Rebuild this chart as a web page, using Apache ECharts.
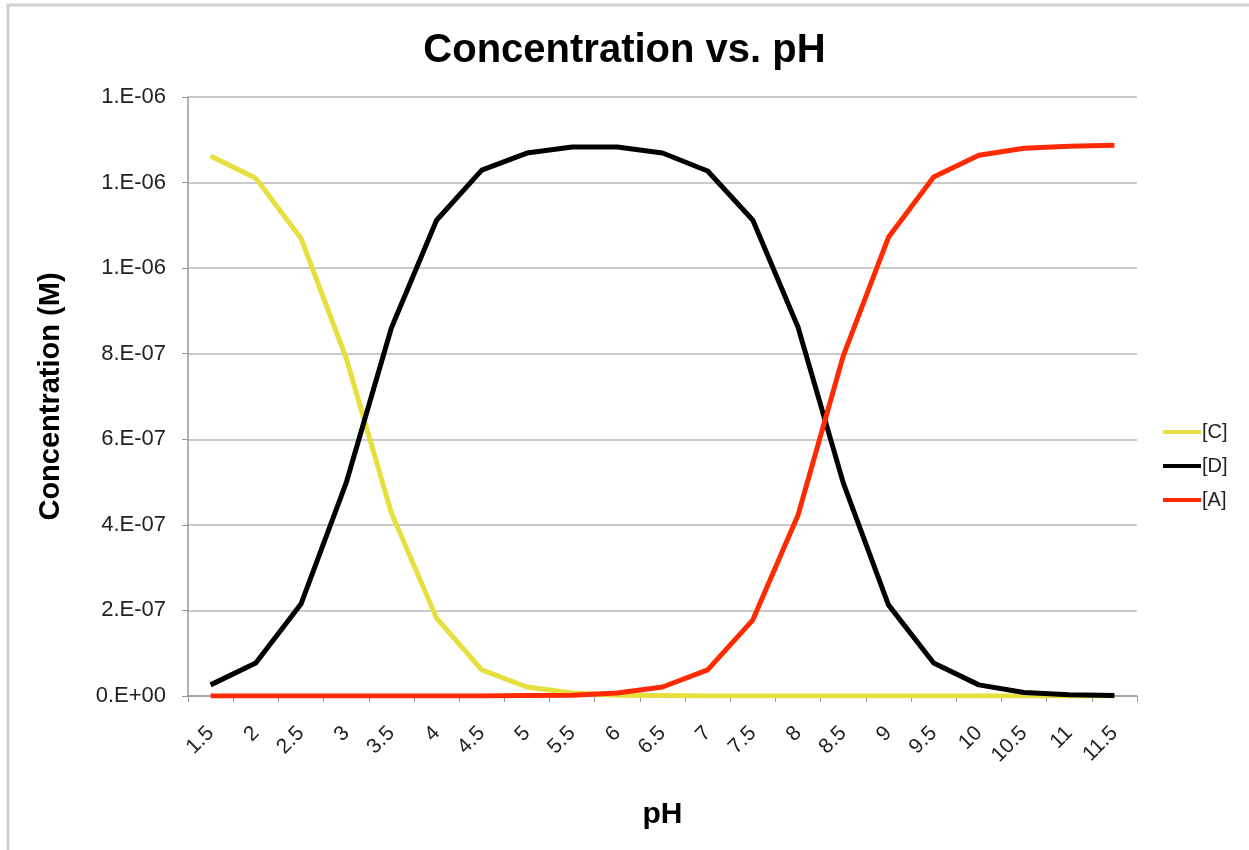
<!DOCTYPE html>
<html>
<head>
<meta charset="utf-8">
<title>Concentration vs. pH</title>
<script src="https://cdn.jsdelivr.net/npm/echarts@6/dist/echarts.min.js"></script>
<style>
  html, body { margin: 0; padding: 0; background: #fff; }
  #main { width: 1249px; height: 850px; }
</style>
</head>
<body>
<div id="main"></div>
<script>
// pH categories
var phLabels = ['1.5', '2', '2.5', '3', '3.5', '4', '4.5', '5', '5.5', '6', '6.5',
  '7', '7.5', '8', '8.5', '9', '9.5', '10', '10.5', '11', '11.5']

// concentrations (M)
var concC = [1.262e-6, 1.210e-6, 1.070e-6, 0.790e-6, 0.428e-6, 0.182e-6, 0.061e-6, 0.021e-6,
  0.007e-6, 0.002e-6, 0.001e-6, 0, 0, 0, 0, 0, 0, 0, 0, 0, 0]
var concD = [0.026e-6, 0.077e-6, 0.215e-6, 0.498e-6, 0.860e-6, 1.112e-6, 1.229e-6, 1.269e-6,
  1.283e-6, 1.283e-6, 1.269e-6, 1.227e-6, 1.112e-6, 0.862e-6, 0.498e-6, 0.213e-6, 0.077e-6,
  0.026e-6, 0.008e-6, 0.003e-6, 0.001e-6]
var concA = [0, 0, 0, 0, 0, 0, 0, 0.001e-6, 0.002e-6, 0.007e-6, 0.021e-6, 0.061e-6, 0.178e-6,
  0.423e-6, 0.795e-6, 1.072e-6, 1.213e-6, 1.264e-6, 1.280e-6, 1.285e-6, 1.287e-6]

var myChart = echarts.init(document.getElementById('main'))
var font = 'Liberation Sans, Arial, sans-serif'

// Excel style "1.E-06"
function sciLabel (v) {
  var s = Number(v).toExponential(0)
  var parts = s.split('e')
  var exp = parseInt(parts[1], 10)
  var sign = exp < 0 ? '-' : '+'
  var abs = Math.abs(exp)
  return parts[0] + '.E' + sign + (abs < 10 ? '0' + abs : abs)
}

function lineSeries (name, data, color) {
  return {
    name: name,
    type: 'line',
    data: data,
    symbol: 'none',
    smooth: false,
    lineStyle: { color: color, width: 5 },
    itemStyle: { color: color }
  }
}

var option = {
  animation: false,
  backgroundColor: '#fff',
  textStyle: { fontFamily: font },
  title: {
    text: 'Concentration vs. pH',
    left: 'center',
    top: 26,
    textStyle: { fontFamily: font, fontSize: 40, fontWeight: 'bold', color: '#000' }
  },
  legend: {
    orient: 'vertical',
    left: 1158,
    top: 417,
    itemWidth: 38,
    itemHeight: 4,
    itemGap: 14,
    icon: 'rect',
    textStyle: { fontFamily: font, fontSize: 20, color: '#222', padding: [0, 0, 0, -4] },
    data: ['[C]', '[D]', '[A]']
  },
  graphic: [
    {
      type: 'rect',
      shape: { x: 8, y: 5, width: 1260, height: 900 },
      style: { fill: 'none', stroke: '#cfcfcf', lineWidth: 3 },
      silent: true
    }
  ],
  grid: {
    left: 188,
    right: 112,
    top: 97,
    bottom: 154
  },
  xAxis: {
    type: 'category',
    data: phLabels,
    name: 'pH',
    nameLocation: 'middle',
    nameGap: 104,
    nameTextStyle: { fontFamily: font, fontSize: 30, fontWeight: 'bold', color: '#000' },
    axisLine: { lineStyle: { color: '#999', width: 1.5 } },
    axisTick: { show: true, length: 6, lineStyle: { color: '#999' } },
    axisLabel: {
      rotate: 45,
      interval: 0,
      margin: 34,
      fontFamily: font,
      fontSize: 21,
      color: '#222'
    },
    splitLine: { show: false }
  },
  yAxis: {
    type: 'value',
    min: 0,
    max: 1.4e-6,
    interval: 2e-7,
    name: 'Concentration (M)',
    nameLocation: 'middle',
    nameGap: 123,
    nameTextStyle: { fontFamily: font, fontSize: 29, fontWeight: 'bold', color: '#000' },
    axisLine: { show: true, lineStyle: { color: '#999', width: 1.5 } },
    axisTick: { show: true, length: 6, lineStyle: { color: '#999' } },
    axisLabel: {
      formatter: sciLabel,
      margin: 22,
      fontFamily: font,
      fontSize: 22,
      color: '#222'
    },
    splitLine: { lineStyle: { color: '#b8b8b8', width: 1.5 } }
  },
  series: [
    lineSeries('[C]', concC, '#e6df3e'),
    lineSeries('[D]', concD, '#000000'),
    lineSeries('[A]', concA, '#ff2a00')
  ]
}

option && myChart.setOption(option)
</script>
</body>
</html>
